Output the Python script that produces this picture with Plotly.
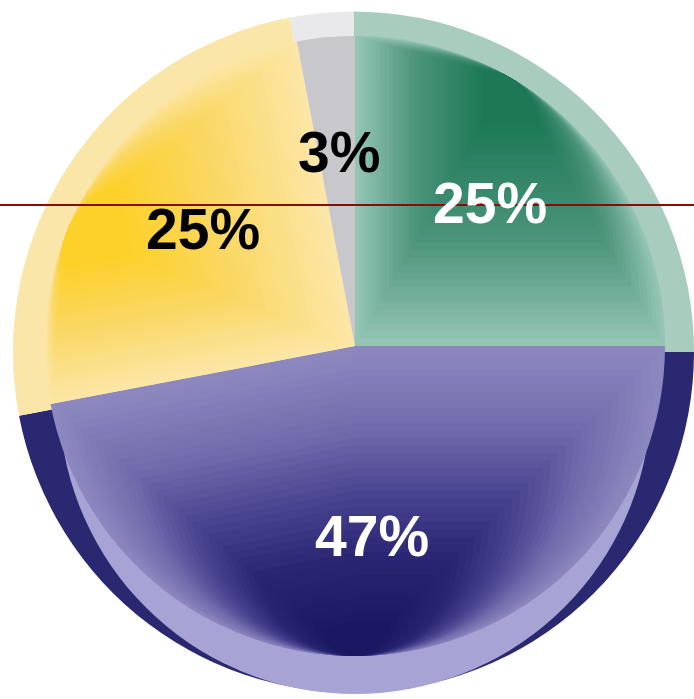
import math
import plotly.graph_objects as go

# Share of each segment, clockwise from 12 o'clock
segments = ["Green", "Purple", "Yellow", "Gray"]
shares = [25, 47, 25, 3]
label_colors = ["white", "white", "black", "black"]

# Bevel ring colours (purple ring is dark at the shoulders)
ring_colors = ["#A8CCBE", "#2A2870", "#F9E6A8", "#E9E9EB"]
# Base face colours
face_colors = ["#94C4B4", "#8C88BF", "#FCE6A6", "#C8C8CC"]

# Shading per slice: direction of the shift toward the dark side
# (deg clockwise from 12 o'clock), maximum shift in px, steps, colour stops.
shading = {
    0: dict(angle=30, dmax=255, steps=30,
            stops=[(0, "#94C4B4"), (0.45, "#4E957C"), (1, "#1C7855")]),
    1: dict(angle=180, dmax=275, steps=36,
            stops=[(0, "#8C88BF"), (0.28, "#716DAD"), (0.52, "#4A4590"),
                   (0.75, "#2A2673"), (1, "#1B1863")]),
    2: dict(angle=292, dmax=240, steps=30,
            stops=[(0, "#FCE6A6"), (0.5, "#FAD866"), (1, "#FDD02A")]),
}

W, H = 694, 699
OUT_C, OUT_R = (355, 352), 342     # outer bevel disc
FACE_C, FACE_R = (355, 346), 310   # pie face


def px_domain(cx, cy, r):
    x0, x1 = (cx - r) / W, (cx + r) / W
    y0, y1 = 1 - (cy + r) / H, 1 - (cy - r) / H
    return dict(x=[max(0, x0), min(1, x1)], y=[max(0, y0), min(1, y1)])


def hex_rgb(h):
    h = h.lstrip("#")
    return tuple(int(h[i:i + 2], 16) for i in (0, 2, 4))


def blend(stops, t):
    for (t0, c0), (t1, c1) in zip(stops[:-1], stops[1:]):
        if t <= t1:
            f = 0 if t1 == t0 else (t - t0) / (t1 - t0)
            a, b = hex_rgb(c0), hex_rgb(c1)
            return "rgb(%d,%d,%d)" % tuple(round(a[i] + (b[i] - a[i]) * f) for i in range(3))
    return stops[-1][1]


def pie(center, radius, colors):
    return go.Pie(
        labels=segments, values=shares, sort=False,
        direction="clockwise", rotation=0,
        textinfo="none", hoverinfo="skip", showlegend=False,
        domain=px_domain(center[0], center[1], radius),
        marker=dict(colors=colors, line=dict(width=0)),
    )


def only(idx, color):
    cols = ["rgba(0,0,0,0)"] * len(segments)
    cols[idx] = color
    return cols


fig = go.Figure()

# Outer bevel ring
fig.add_trace(pie(OUT_C, OUT_R, ring_colors))
# Lighter lower rim of the purple bevel
rim_shift = 46
fig.add_trace(pie((OUT_C[0], OUT_C[1] + rim_shift), OUT_R - rim_shift,
                  only(1, "#A7A4D5")))

# Pie face
fig.add_trace(pie(FACE_C, FACE_R, face_colors))

# Gradient shading: nested copies shifted toward the dark side of each slice
for idx, s in shading.items():
    ux = math.sin(math.radians(s["angle"]))
    uy = -math.cos(math.radians(s["angle"]))
    for k in range(1, s["steps"] + 1):
        t = k / s["steps"]
        d = s["dmax"] * t
        c = (FACE_C[0] + ux * d, FACE_C[1] + uy * d)
        fig.add_trace(pie(c, FACE_R - d, only(idx, blend(s["stops"], t))))

# Percentage labels
label_pos = [(490, 203), (372, 536), (203, 229), (339, 152)]
for val, col, (lx, ly) in zip(shares, label_colors, label_pos):
    fig.add_annotation(
        x=lx / W, y=1 - ly / H, xref="paper", yref="paper",
        xanchor="center", yanchor="middle",
        text=f"{val}%", showarrow=False,
        font=dict(family="Liberation Sans", size=57, color=col, weight="bold"),
    )

# Horizontal reference rule
fig.add_shape(type="line", xref="paper", yref="paper",
              x0=0, x1=1, y0=1 - 205 / H, y1=1 - 205 / H,
              line=dict(color="#8B0A0A", width=2))

fig.update_layout(
    width=W, height=H,
    margin=dict(l=0, r=0, t=0, b=0),
    paper_bgcolor="white",
    plot_bgcolor="white",
)

fig.write_html("out.html")
